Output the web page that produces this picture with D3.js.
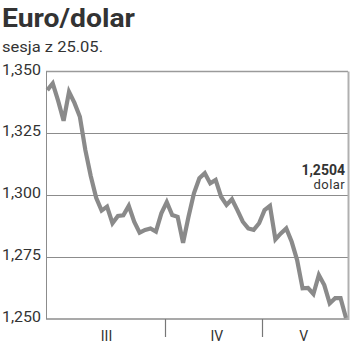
<!DOCTYPE html>
<html>
<head>
<meta charset="utf-8">
<script src="https://cdn.jsdelivr.net/npm/d3@7"></script>
<style>
  body { margin: 0; background: #fff; }
  svg text { font-family: Roboto, "Open Sans", sans-serif; fill: #333; }
</style>
</head>
<body>
<svg id="chart" width="350" height="351"></svg>
<script>
// session closes EUR/USD, from early March to 25.05
var rates = [
  1.3425, 1.3452, 1.3381, 1.3301, 1.3418, 1.3373, 1.3317, 1.3183, 1.3078, 1.2990,
  1.2938, 1.2954, 1.2887, 1.2916, 1.2919, 1.2957, 1.2893, 1.2849, 1.2860, 1.2866,
  1.2853, 1.2927, 1.2972, 1.2920, 1.2913, 1.2808, 1.2913, 1.3008, 1.3069, 1.3089,
  1.3048, 1.3062, 1.2994, 1.2961, 1.2984, 1.2940, 1.2893, 1.2866, 1.2860, 1.2887,
  1.2940, 1.2957, 1.2822, 1.2846, 1.2866, 1.2812, 1.2738, 1.2624, 1.2626, 1.2601,
  1.2678, 1.2637, 1.2563, 1.2584, 1.2584, 1.2504
];
var yTicks = [1.250, 1.275, 1.300, 1.325, 1.350];
var months = ["III", "IV", "V"];
var monthBreaks = [21.7, 39.5];      // session index where a new month starts
var monthCentres = [10.9, 31.2, 47.2];
var lastLabel = "1,2504";
var lastUnit = "dolar";

var svg = d3.select("#chart");

var margin = { top: 71.5, right: 2, bottom: 32, left: 46 };
var width = 350, height = 351;

var x = d3.scaleLinear()
    .domain([0, rates.length - 1])
    .range([47.3, 346]);

var y = d3.scaleLinear()
    .domain([1.25, 1.35])
    .range([height - margin.bottom, margin.top]);

var fmt = function(d) { return d3.format(".3f")(d).replace(".", ","); };

// title
svg.append("text")
    .attr("x", 2)
    .attr("y", 26.5)
    .attr("textLength", 133)
    .attr("lengthAdjust", "spacingAndGlyphs")
    .style("font-size", "25px")
    .style("font-weight", "bold")
    .text("Euro/dolar");

svg.append("text")
    .attr("x", 2)
    .attr("y", 51.5)
    .attr("textLength", 101)
    .attr("lengthAdjust", "spacingAndGlyphs")
    .style("font-size", "14.5px")
    .text("sesja z 25.05.");

// grid lines
svg.append("g")
    .selectAll("line")
    .data(yTicks.slice(1, 4))
    .enter().append("line")
    .attr("x1", margin.left)
    .attr("x2", width - margin.right)
    .attr("y1", function(d) { return Math.round(y(d)) + 0.5; })
    .attr("y2", function(d) { return Math.round(y(d)) + 0.5; })
    .attr("stroke", "#8c8c8c")
    .attr("stroke-width", 1);

// frame
svg.append("line")
    .attr("x1", margin.left).attr("x2", width - margin.right)
    .attr("y1", y(1.35)).attr("y2", y(1.35))
    .attr("stroke", "#9a9a9a").attr("stroke-width", 1.5);
svg.append("line")
    .attr("x1", margin.left).attr("x2", width - margin.right)
    .attr("y1", y(1.25)).attr("y2", y(1.25))
    .attr("stroke", "#8c8c8c").attr("stroke-width", 1.5);
svg.append("line")
    .attr("x1", margin.left + 0.5).attr("x2", margin.left + 0.5)
    .attr("y1", y(1.35)).attr("y2", y(1.25))
    .attr("stroke", "#8c8c8c").attr("stroke-width", 1);
svg.append("line")
    .attr("x1", width - margin.right + 0.5).attr("x2", width - margin.right + 0.5)
    .attr("y1", y(1.35)).attr("y2", y(1.25) + 1)
    .attr("stroke", "#b0b0b0").attr("stroke-width", 2);

// y labels
svg.append("g")
    .selectAll("text")
    .data(yTicks)
    .enter().append("text")
    .attr("x", 2)
    .attr("y", function(d) { return y(d) + 3; })
    .attr("textLength", 39)
    .attr("lengthAdjust", "spacingAndGlyphs")
    .style("font-size", "14px")
    .text(fmt);

// month separators
svg.append("g")
    .selectAll("line")
    .data(monthBreaks)
    .enter().append("line")
    .attr("x1", function(d) { return Math.round(x(d)) + 0.5; })
    .attr("x2", function(d) { return Math.round(x(d)) + 0.5; })
    .attr("y1", y(1.25))
    .attr("y2", y(1.25) + 18)
    .attr("stroke", "#777")
    .attr("stroke-width", 1.2);

svg.append("g")
    .selectAll("text")
    .data(months)
    .enter().append("text")
    .attr("x", function(d, i) { return x(monthCentres[i]); })
    .attr("y", 341)
    .attr("text-anchor", "middle")
    .style("font-size", "14px")
    .text(function(d) { return d; });

// rate line
var line = d3.line()
    .x(function(d, i) { return x(i); })
    .y(function(d) { return y(d); });

svg.append("path")
    .datum(rates)
    .attr("d", line)
    .attr("fill", "none")
    .attr("stroke", "#8a8a8a")
    .attr("stroke-width", 4.2)
    .attr("stroke-linejoin", "miter");

// last value
svg.append("text")
    .attr("x", 345)
    .attr("y", 175)
    .attr("text-anchor", "end")
    .style("font-size", "14px")
    .style("font-weight", "bold")
    .text(lastLabel);
svg.append("text")
    .attr("x", 345)
    .attr("y", 188.5)
    .attr("text-anchor", "end")
    .style("font-size", "13px")
    .style("letter-spacing", "0.4px")
    .text(lastUnit);
</script>
</body>
</html>
